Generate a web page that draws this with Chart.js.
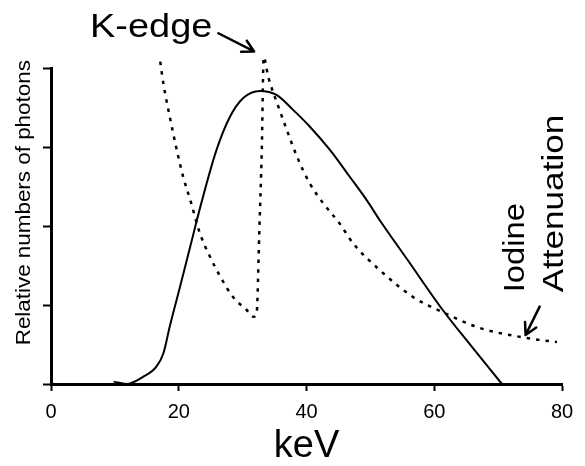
<!DOCTYPE html>
<html>
<head>
<meta charset="utf-8">
<script src="https://cdn.jsdelivr.net/npm/chart.js@4/dist/chart.umd.min.js"></script>
<style>
  html, body { margin: 0; padding: 0; background: #fff; }
</style>
</head>
<body>
<canvas id="myChart" width="585" height="466"></canvas>
<script>
// x-ray spectrum (solid line)
const spectrumKeV = [9.8, 11.8, 14.4, 16.5, 17.6, 18.6, 20.2, 21.8, 23.5, 25.9, 28, 30.1, 32.7, 35.3, 37.9, 40.5, 43.7, 46.8, 49.4, 51.5, 56, 61.3, 66, 70.6];
const spectrumVal = [0.03, 0, 0.09, 0.22, 0.39, 0.73, 1.23, 1.74, 2.28, 2.96, 3.38, 3.62, 3.71, 3.66, 3.47, 3.26, 2.96, 2.62, 2.33, 2.07, 1.55, 0.94, 0.46, 0];
// iodine attenuation (dotted line)
const iodineKeV = [17.1, 17.6, 18.6, 19.7, 20.7, 21.8, 23.3, 24.9, 26.5, 28.5, 30.6, 31.7, 32.2, 32.6, 33.0, 33.3, 34, 35.6, 36.9, 38.5, 40.5, 42.6, 45.2, 47.3, 51.5, 56.7, 61.3, 67.1, 73.9, 79.2];
const iodineVal = [4.08, 3.8, 3.38, 2.96, 2.62, 2.33, 1.91, 1.61, 1.36, 1.1, 0.94, 0.85, 0.9, 1.9, 2.96, 4.14, 3.89, 3.51, 3.22, 2.88, 2.54, 2.29, 2.03, 1.78, 1.44, 1.1, 0.91, 0.71, 0.59, 0.53];
const xTicks = [0, 20, 40, 60, 80];

const toXY = (xs, ys) => xs.map((x, i) => ({x: x, y: ys[i]}));
const FONT = '"Liberation Sans", Arial, Helvetica, sans-serif';

// free text / arrows, positioned in data units
function drawText(ctx, str, px, py, size, rot, sx) {
  ctx.save();
  ctx.translate(px, py);
  ctx.rotate(rot);
  ctx.scale(sx, 1);
  ctx.font = size + 'px ' + FONT;
  ctx.fillStyle = '#000';
  ctx.textBaseline = 'alphabetic';
  ctx.textAlign = 'left';
  ctx.fillText(str, 0, 0);
  ctx.restore();
}
function drawArrow(ctx, x1, y1, x2, y2) {
  const a = Math.atan2(y2 - y1, x2 - x1);
  const h = 13;
  ctx.save();
  ctx.strokeStyle = '#000';
  ctx.lineWidth = 2.5;
  ctx.lineCap = 'round';
  ctx.lineJoin = 'round';
  ctx.beginPath();
  ctx.moveTo(x1, y1);
  ctx.lineTo(x2, y2);
  ctx.moveTo(x2 - h * Math.cos(a - 0.5), y2 - h * Math.sin(a - 0.5));
  ctx.lineTo(x2, y2);
  ctx.lineTo(x2 - h * Math.cos(a + 0.5), y2 - h * Math.sin(a + 0.5));
  ctx.stroke();
  ctx.restore();
}

const notes = {
  id: 'notes',
  afterDraw(chart) {
    const {ctx, scales: {x, y}} = chart;
    const X = v => x.getPixelForValue(v), Y = v => y.getPixelForValue(v);
    drawText(ctx, 'Relative numbers of photons', X(-3.3), Y(0.49), 20, -Math.PI / 2, 1.12);
    drawText(ctx, 'K-edge', X(6.1), Y(4.39), 33, 0, 1.15);
    drawArrow(ctx, X(26.2), Y(4.44), X(31.8), Y(4.21));
    drawText(ctx, 'Iodine', X(74.0), Y(1.16), 29, -Math.PI / 2, 1.13);
    drawText(ctx, 'Attenuation', X(80.1), Y(1.16), 30, -Math.PI / 2, 1.17);
    drawArrow(ctx, X(76.5), Y(0.98), X(74.3), Y(0.62));
  }
};

new Chart(document.getElementById('myChart'), {
  type: 'line',
  plugins: [notes],
  data: {
    datasets: [{
      label: 'Spectrum',
      data: toXY(spectrumKeV, spectrumVal),
      borderColor: '#000',
      borderWidth: 2,
      pointRadius: 0,
      cubicInterpolationMode: 'monotone',
      clip: false
    }, {
      label: 'Iodine attenuation',
      data: toXY(iodineKeV, iodineVal),
      borderColor: '#000',
      borderWidth: 2.5,
      borderDash: [3.5, 6],
      pointRadius: 0,
      cubicInterpolationMode: 'monotone',
      clip: false
    }]
  },
  options: {
    responsive: false,
    animation: false,
    layout: { padding: { top: 68, right: 23, left: 0, bottom: 0 } },
    plugins: { legend: { display: false }, tooltip: { enabled: false } },
    scales: {
      x: {
        type: 'linear',
        min: 0, max: 80,
        afterBuildTicks: s => { s.ticks = xTicks.map(v => ({value: v})); },
        afterFit: s => { s.height = 82; },
        border: { color: '#000', width: 3 },
        grid: { drawOnChartArea: false, drawTicks: true, tickLength: 7, tickWidth: 2, tickColor: '#000' },
        ticks: { color: '#000', font: { family: FONT, size: 20 }, padding: 9, maxRotation: 0 },
        title: { display: true, text: 'keV', color: '#000', font: { family: FONT, size: 38, lineHeight: 1 }, padding: 0 }
      },
      y: {
        min: 0, max: 4,
        afterFit: s => { s.width = 51; },
        border: { color: '#000', width: 3 },
        grid: { drawOnChartArea: false, drawTicks: true, tickLength: 8, tickWidth: 2, tickColor: '#000' },
        ticks: { stepSize: 1, callback: () => '' }
      }
    }
  }
});
</script>
</body>
</html>
